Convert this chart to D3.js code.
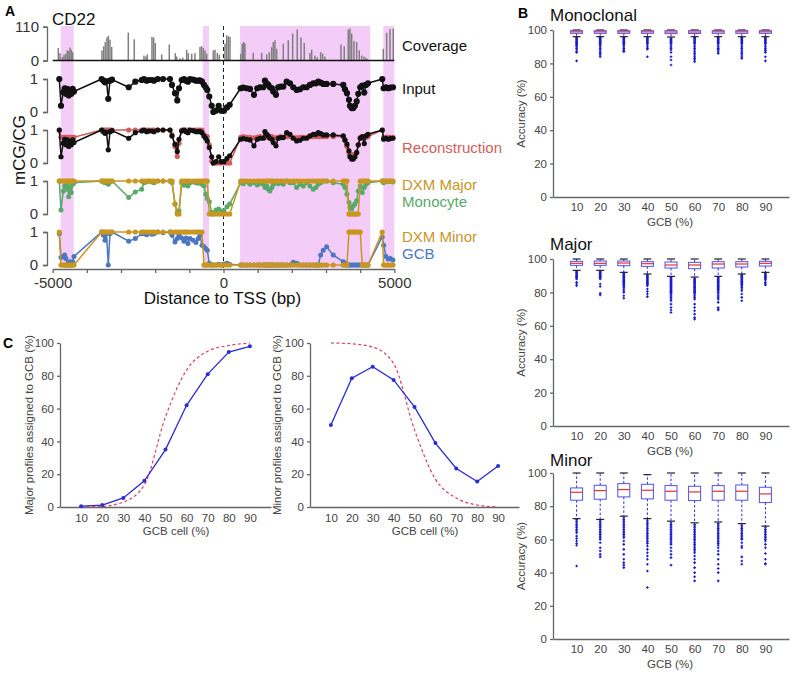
<!DOCTYPE html>
<html>
<head>
<meta charset="utf-8">
<script src="https://cdn.jsdelivr.net/npm/d3@7"></script>
<style>
  body { margin: 0; background: #fff; }
  svg { display: block; }
</style>
</head>
<body>
<script>
// ---------------- data: panel A (CD22 locus) ----------------
const pinkRegions = [[-4765, -4384], [-601, -425], [484, 4296], [4677, 5000]];
const aTicks = [-5000, -4000, -3000, -2000, -1000, 0, 1000, 2000, 3000, 4000, 5000];
const aTickLabels = [-5000, 0, 5000];

const covPos = [-4836,-4786,-4719,-4669,-4619,-4573,-4532,-4494,-4456,-4415,
  -3557,-3507,-3460,-3411,-3373,-3323,-3273,-2787,-2612,-2328,
  -2269,-2231,-2094,-2044,-1997,-1810,-1587,-1411,-1370,-1274,
  -1195,-1078,-1031,-931,-835,-688,-639,-592,-542,-492,
  -299,-249,-182,-124,43,93,140,190,503,550,
  591,629,872,1117,1264,1340,1410,1457,1507,1556,
  1750,1896,2025,2159,2268,2364,2531,2581,2677,2745,
  2844,2903,2970,3439,3535,3652,3702,3752,3819,3898,
  3974,4044,4112,4170,4208,4677,4776,4873,4969];
const covVal = [41,24,11,19,22,33,31,42,35,27,
  33,46,60,75,80,68,44,91,69,16,
  13,20,77,75,57,20,52,24,13,7,
  9,35,24,22,24,44,47,41,33,22,
  33,35,25,19,55,82,79,77,22,55,
  60,55,25,25,20,27,44,60,66,38,
  55,66,88,101,75,57,24,35,16,11,
  27,22,13,52,46,101,104,88,63,60,
  33,16,13,9,5,38,90,102,104];

// CpG positions (bp from TSS)
const cpgPos = [-4807,-4757,-4690,-4649,-4611,-4573,-4532,-4494,-4456,-4415,
  -4377,-3566,-3513,-3469,-3425,-3373,-3323,-3264,-2775,-2582,
  -2395,-2328,-2249,-2181,-2094,-2035,-1927,-1771,-1567,-1508,
  -1420,-1353,-1303,-1224,-1157,-1098,-1040,-981,-885,-806,
  -738,-689,-630,-572,-522,-475,-416,-346,-299,-220,
  -141,-65,14,102,181,503,579,679,775,892,
  989,1068,1164,1214,1264,1311,1360,1419,1457,1536,
  1603,1674,1750,1849,1946,2042,2142,2238,2335,2435,
  2531,2628,2707,2774,2844,2920,3020,3213,3506,3556,
  3614,3673,3702,3752,3799,3848,3898,3945,4003,4062,
  4121,4170,4229,4647,4687,4756,4823,4882,4961];

const inputMeth = [1.0,0.19,0.6,0.72,0.55,0.7,0.5,0.65,0.55,0.7,
  0.62,1.0,0.95,0.9,0.93,0.4,0.95,0.98,0.75,0.92,
  0.97,1.0,0.95,0.97,0.97,0.95,1.0,1.0,1.0,0.82,
  0.57,0.35,0.72,0.97,1.0,0.95,0.92,1.0,0.98,0.95,
  0.95,0.96,0.92,0.82,0.75,0.67,0.47,0.19,0.0,0.04,
  0.19,0.04,0.04,0.14,0.22,0.72,0.74,0.72,0.7,0.52,
  0.72,0.75,0.75,0.95,0.87,0.82,0.75,0.72,0.62,0.52,
  0.75,0.77,0.77,0.92,0.87,0.75,0.67,0.69,0.75,0.75,
  0.82,0.87,0.87,0.92,0.89,0.85,0.85,0.85,0.82,0.69,
  0.57,0.37,0.19,0.12,0.12,0.19,0.32,0.55,0.75,0.8,
  0.59,0.82,0.87,1.0,0.72,0.75,0.72,0.74,0.75];

const reconMeth = [1.0,0.78,0.78,0.78,0.78,0.78,0.78,0.78,0.78,0.78,
  0.78,1,1,1,1,1,1,1,1,1,
  1,1,1,1,1,1,1,1,1,0.85,
  0.5,0.2,0.6,1,1,1,1,1,1,1,
  1,1,1,0.85,0.8,0.8,0.55,0.05,0,0,
  0,0,0,0,0,0.78,0.8,0.78,0.78,0.76,
  0.78,0.8,0.78,0.8,0.78,0.78,0.78,0.8,0.76,0.76,
  0.78,0.8,0.78,0.8,0.8,0.78,0.76,0.78,0.78,0.78,
  0.8,0.8,0.8,0.8,0.8,0.8,0.8,0.8,0.8,0.72,
  0.5,0.3,0.25,0.25,0.25,0.25,0.3,0.55,0.78,0.78,
  0.78,0.78,0.8,1.0,0.78,0.78,0.78,0.78,0.78];

const dxmMajor = [1,1,1,1,1,1,1,1,1,1,
  1,1,1,1,1,1,1,1,1,1,
  1,1,1,1,1,1,1,1,1,1,
  0.3,0,0,1,1,1,1,1,1,1,
  1,1,1,1,1,1,0,0,0,0,
  0,0,0,0,0,1,1,1,1,1,
  1,1,1,1,1,1,1,1,1,1,
  1,1,1,1,1,1,1,1,1,1,
  1,1,1,1,1,1,1,1,1,1,
  1,0,0,0,0,0,0,0,1,1,
  1,1,1,1,1,1,1,1,1];

const monocyte = [1.0,0.12,0.7,0.85,0.75,0.9,0.52,0.8,0.65,0.9,
  0.95,1.0,0.97,0.95,0.97,0.9,0.97,1.0,0.5,0.67,
  0.75,0.95,0.97,1.0,0.97,0.95,1.0,1.0,1.0,0.95,
  0.3,0.05,0.1,0.95,0.87,0.9,0.85,0.95,0.97,0.95,
  0.93,0.97,0.9,0.85,0.6,0.47,0.37,0.05,0.0,0.12,
  0.15,0.08,0.1,0.22,0.3,0.95,0.92,0.97,0.9,0.95,
  0.88,0.93,0.9,0.8,0.85,0.75,0.7,0.8,0.9,0.95,
  0.92,0.95,0.9,1.0,0.95,0.95,0.8,0.9,0.85,0.95,
  0.85,0.75,0.8,0.9,0.95,1.0,1.0,0.95,0.9,0.8,
  0.6,0.35,0.2,0.15,0.25,0.3,0.4,0.7,0.85,0.65,
  0.8,0.9,0.95,1.0,0.95,1.0,0.98,1.0,0.97];

const dxmMinor = [1,0,0,0,0,0,0,0,0,0,
  0,1,1,1,1,1,1,1,1,1,
  1,1,1,1,1,1,1,1,1,1,
  1,1,1,1,1,1,1,1,1,1,
  1,1,1,0,0,0,0,0,0,0,
  0,0,0,0,0,0,0,0,0,0,
  0,0,0,0,0,0,0,0,0,0,
  0,0,0,0,0,0,0,0,0,0,
  0,0,0,0,0,0,0,0,0,0,
  0,1,1,1,1,1,1,1,1,0,
  0,0,0,1,0,0,0,0,0];

const gcb = [0.95,0.23,0.25,0.3,0.2,0.0,0.05,0.1,0.0,0.1,
  0.26,1.0,0.9,0.75,0.95,0.0,0.95,1.0,0.72,0.8,
  0.95,0.95,0.92,0.97,0.93,0.95,1.0,0.98,1.0,0.9,
  0.7,0.8,0.9,0.82,0.72,0.82,0.65,0.8,0.75,0.68,
  0.8,0.9,0.6,0.55,0.5,0.45,0.05,0,0,0,
  0.02,0,0.03,0.05,0.02,0,0,0,0,0,
  0,0,0,0,0,0,0,0,0,0,
  0,0,0,0,0,0.08,0.05,0,0,0,
  0,0,0,0,0.3,0.45,0.55,0.3,0.1,0.05,
  0,0,0,0,0,0,0,0,0,0,
  0,0,0,0.85,0.6,0.26,0.18,0.2,0.15];

// ---------------- data: panel B (accuracy box plots) ----------------
const gcbLevels = [10, 20, 30, 40, 50, 60, 70, 80, 90];
const accTicks = [0, 20, 40, 60, 80, 100];

const monoQ1 = [98, 98, 98, 98, 97.8, 97.9, 98, 98, 98];
const monoMed = [98.9, 98.9, 98.9, 98.9, 98.8, 98.8, 98.9, 98.9, 98.9];
const monoQ3 = [99.6, 99.6, 99.6, 99.6, 99.6, 99.6, 99.6, 99.6, 99.6];
const monoLo = [96, 96, 96, 96, 95.8, 96, 96, 96, 96];
const monoHi = [100, 100, 100, 100, 100, 100, 100, 100, 100];
const monoFliers = [
  [95.5,95,94.5,94,93.5,93,92.5,92,91.5,91,90.5,90,89,88,87,86.5,81.5],
  [95.5,95,94.5,94,93.5,93,92.5,92,91.5,91,90,89,88,87,86,85,84],
  [95.5,95,94.5,94,93.5,93,92.5,92,91.5,91,90,89,88,87.5,87],
  [95.5,95,94.5,94,93.5,93,92.5,92,91,90,89,88.5,84],
  [95,94.5,94,93.5,93,92.5,92,91,90,89,88,86.5,84,82,79],
  [95.5,95,94.5,94,93.5,93,92.5,92,91,90,89,88,87,86,85,84,83,82,81],
  [95.5,95,94.5,94,93.5,93,92.5,92,91,90,89,88.5,88,87,86],
  [95.5,95,94.5,94,93.5,93,92.5,92,91,90,89,88,87,86,85,84,83],
  [95.5,95,94.5,94,93.5,93,92.5,92,91,90,89,88,87.5,86.5,84,81.5]
];

const majQ1 = [96.2, 96.2, 96, 95.6, 94.6, 94.2, 94.6, 95.2, 95.8];
const majMed = [97.4, 97.4, 97.6, 97.2, 96.4, 96.4, 97, 97, 97.4];
const majQ3 = [98.6, 98.8, 98.8, 98.4, 98.2, 98, 98.4, 98.4, 98.6];
const majLo = [93.2, 93.2, 92, 91, 89.6, 89.2, 89.6, 91, 92];
const majHi = [100, 100, 100, 100, 100, 100, 100, 100, 100];
const majFliers = [
  [92.5,92,91.5,91,90.5,90,89.5,89,88.5,88,86,85,84],
  [92.5,92,91.5,91,90.5,90,89.5,89,88.5,88,85,83.5,79.5,78.5],
  [91.5,91,90.5,90,89.5,89,88.5,88,87.5,87,86.5,86,85.5,85,84.5,84,83,82,81,80,78,76.5],
  [90.5,90,89.5,89,88.5,88,87.5,87,86.5,86,85.5,85,84.5,84,82,80.5,79,77.5],
  [89,88.5,88,87.5,87,86.5,86,85.5,85,84.5,84,83.5,83,82.5,82,81.5,81,80.5,80,79.5,79,78,77,76,75,73,71,69.5,68],
  [88.5,88,87.5,87,86.5,86,85.5,85,84.5,84,83.5,83,82.5,82,81.5,81,80.5,80,79.5,79,78,77,76,73,71,69,67,65,64],
  [89,88.5,88,87.5,87,86.5,86,85.5,85,84.5,84,83.5,83,82.5,82,81.5,81,80,79,78,77,76,74,71,70,69.5],
  [90.5,90,89.5,89,88.5,88,87.5,87,86.5,86,85.5,85,84.5,84,83,82,81,79,77,75],
  [91.5,91,90.5,90,89.5,89,88.5,88,87.5,86,85,84.5]
];

const minQ1 = [83.6, 84.2, 85.6, 84.4, 83.6, 83.4, 83.6, 83.6, 82.2];
const minMed = [88.4, 89.4, 90, 89.6, 89, 88.6, 89, 89, 87.4];
const minQ3 = [91, 92.6, 93.6, 93.2, 92.4, 92, 92.4, 92.8, 91.4];
const minLo = [72.5, 72, 74, 72.5, 71, 70, 70.5, 69.5, 68];
const minHi = [100, 100, 100, 99, 100, 100, 100, 100, 100];
const minFliers = [
  [72,71,70,69,68,67,66,65,64,62,60.5,59,57.5,56.5,44],
  [71,70,69,68,67,66,65,64,63,62,61,60,58,55,53,51,49.5],
  [73,72,71,70,69,68,67,66,65,64,63,62,61,59,57,54,51,48,46,44.5,43],
  [71.5,70.5,69.5,68.5,67.5,66.5,65.5,64.5,63.5,62.5,61.5,60.5,59.5,58.5,57.5,56,54,52,50,48,45,41,31],
  [70,69,68,67,66,65,64,63,62,61,60,59,58,57,55,53,51,49,44.5],
  [69,68,67,66,65,64,63,62,61,60,59,58,57,56,55,54,53,52,50,48,46,43,40,37.5,35],
  [69.5,68.5,67.5,66.5,65.5,64.5,63.5,62.5,61.5,60.5,59.5,58.5,57.5,56.5,55,53,51,48,45,42.5,40,35],
  [68.5,67.5,66.5,65.5,64.5,63.5,62.5,61.5,60.5,60,58,56,55,49.5,47,45],
  [67,66,65,64,63,62,61,60,59,57,55,51.5,48,45.5,45]
];

// ---------------- data: panel C ----------------
const cLevels = [10, 20, 30, 40, 50, 60, 70, 80, 90];
const majorObs = [0.5, 1.2, 5.5, 16, 35, 62, 81, 94.5, 98];
const majorExp = [0, 0.4, 3, 13.5, 55, 83.5, 95, 98.5, 100];
const minorObs = [50, 78.5, 85.5, 77.5, 61, 39, 23.5, 15.5, 25];
const minorExp = [100, 99.5, 97.5, 87.5, 47, 17, 5.5, 1.2, 0];

// ---------------- drawing ----------------
const FONT = '"Liberation Sans", Arial, Helvetica, sans-serif';
const RED = '#d05e5c', GOLD = '#c9961f', GREEN = '#58a96a', BLUE = '#4a77c0';

const svg = d3.select('body').append('svg')
  .attr('width', 794).attr('height', 674)
  .style('font-family', FONT);

function styleAxis(g, size, col) {
  g.select('.domain').attr('stroke', '#666').attr('stroke-width', 1.3);
  g.selectAll('.tick line').attr('stroke', '#666').attr('stroke-width', 1.3);
  g.selectAll('.tick text').attr('fill', col || '#333').style('font-size', size + 'px').style('font-family', FONT);
}

// ===== Panel A =====
const xA = d3.scaleLinear().domain([-5000, 5000]).range([52.7, 394.3]);
const yCov = d3.scaleLinear().domain([0, 110]).range([60.5, 26.7]);
const axisAY = 269;

svg.append('g').selectAll('rect').data(pinkRegions).join('rect')
  .attr('x', d => xA(d[0]))
  .attr('width', d => xA(d[1]) - xA(d[0]))
  .attr('y', 26).attr('height', axisAY - 27)
  .attr('fill', '#f4ccf8');

svg.append('line')
  .attr('x1', xA(0)).attr('x2', xA(0)).attr('y1', 26).attr('y2', axisAY)
  .attr('stroke', '#222').attr('stroke-width', 1).attr('stroke-dasharray', '4,3');

// coverage bars
svg.append('g').selectAll('rect').data(covPos.map((p, i) => ({ p, v: covVal[i] }))).join('rect')
  .attr('x', d => xA(d.p) - 0.75).attr('width', 1.5)
  .attr('y', d => yCov(d.v)).attr('height', d => yCov(0) - yCov(d.v))
  .attr('fill', '#808080');
svg.append('line')
  .attr('x1', xA(-5000)).attr('x2', xA(5000)).attr('y1', yCov(0)).attr('y2', yCov(0))
  .attr('stroke', '#111').attr('stroke-width', 1.5);

const covAxis = svg.append('g').attr('transform', 'translate(47,0)')
  .call(d3.axisLeft(yCov).tickValues([0, 110]).tickSize(4).tickPadding(4));
styleAxis(covAxis, 15);

// methylation tracks
const tracks = [
  { range: [112, 79], series: [{ v: inputMeth, c: '#111', r: 3.1 }] },
  { range: [163, 130], series: [{ v: reconMeth, c: RED, r: 2.6 }, { v: inputMeth, c: '#111', r: 2.6 }] },
  { range: [214, 181], series: [{ v: monocyte, c: GREEN, r: 2.5 }, { v: dxmMajor, c: GOLD, r: 2.6 }] },
  { range: [265, 232], series: [{ v: gcb, c: BLUE, r: 2.5 }, { v: dxmMinor, c: GOLD, r: 2.6 }] }
];

tracks.forEach(t => {
  const y = d3.scaleLinear().domain([0, 1]).range(t.range);
  const ax = svg.append('g').attr('transform', 'translate(47,0)')
    .call(d3.axisLeft(y).tickValues([0, 1]).tickSize(4).tickPadding(5).tickFormat(d3.format('d')));
  styleAxis(ax, 15);
  t.series.forEach(s => {
    const pts = cpgPos.map((p, i) => ({ p, v: s.v[i] }));
    svg.append('path').datum(pts)
      .attr('d', d3.line().x(d => xA(d.p)).y(d => y(d.v)))
      .attr('fill', 'none').attr('stroke', s.c).attr('stroke-width', 1.5);
    svg.append('g').selectAll('circle').data(pts).join('circle')
      .attr('cx', d => xA(d.p)).attr('cy', d => y(d.v)).attr('r', s.r)
      .attr('fill', s.c);
  });
});

// x axis of panel A
const axA = svg.append('g').attr('transform', `translate(0,${axisAY})`)
  .call(d3.axisBottom(xA).tickValues(aTicks).tickSize(4).tickSizeOuter(0).tickPadding(4)
    .tickFormat(d => aTickLabels.includes(d) ? String(d) : ''));
styleAxis(axA, 15);

svg.append('text').attr('x', 222.5).attr('y', 304).attr('text-anchor', 'middle')
  .style('font-size', '17px').attr('fill', '#111').text('Distance to TSS (bp)');
svg.append('text').attr('transform', 'translate(25,150) rotate(-90)').attr('text-anchor', 'middle')
  .style('font-size', '17px').attr('fill', '#111').text('mCG/CG');
svg.append('text').attr('x', 52).attr('y', 25).style('font-size', '17px').attr('fill', '#111').text('CD22');

const trackLabels = [
  { t: 'Coverage', y: 51, c: '#111' },
  { t: 'Input', y: 94, c: '#111' },
  { t: 'Reconstruction', y: 153, c: RED },
  { t: 'DXM Major', y: 190, c: GOLD },
  { t: 'Monocyte', y: 207, c: GREEN },
  { t: 'DXM Minor', y: 242, c: GOLD },
  { t: 'GCB', y: 259, c: BLUE }
];
svg.append('g').selectAll('text').data(trackLabels).join('text')
  .attr('x', 402).attr('y', d => d.y).attr('fill', d => d.c)
  .style('font-size', '15px').text(d => d.t);

// panel letters
svg.append('text').attr('x', 5).attr('y', 16).style('font-size', '14px').style('font-weight', 'bold').text('A');
svg.append('text').attr('x', 518).attr('y', 18).style('font-size', '14px').style('font-weight', 'bold').text('B');
svg.append('text').attr('x', 3).attr('y', 348).style('font-size', '14px').style('font-weight', 'bold').text('C');

// ===== Panel B =====
function boxPanel(title, titleY, yBottom, yTop, q1, med, q3, lo, hi, fliers) {
  const x = d3.scaleLinear().domain([0, 100]).range([553, 789]);
  const y = d3.scaleLinear().domain([0, 100]).range([yBottom, yTop]);
  const g = svg.append('g');

  g.append('text').attr('x', 550).attr('y', titleY).style('font-size', '17px').attr('fill', '#111').text(title);

  const ya = g.append('g').attr('transform', 'translate(553,0)')
    .call(d3.axisLeft(y).tickValues(accTicks).tickSize(3).tickSizeOuter(0).tickPadding(3));
  styleAxis(ya, 11.5, '#444');
  const xa = g.append('g').attr('transform', `translate(0,${yBottom})`)
    .call(d3.axisBottom(x).tickValues(gcbLevels).tickSize(0).tickSizeOuter(0).tickPadding(6));
  styleAxis(xa, 11.5, '#444');

  g.append('text').attr('transform', 'translate(525,' + ((yBottom + yTop) / 2) + ') rotate(-90)')
    .attr('text-anchor', 'middle').style('font-size', '11.5px').attr('fill', '#444').text('Accuracy (%)');
  g.append('text').attr('x', 670).attr('y', yBottom + 29).attr('text-anchor', 'middle')
    .style('font-size', '11.5px').attr('fill', '#444').text('GCB (%)');

  const rows = gcbLevels.map((l, i) => ({ l, q1: q1[i], med: med[i], q3: q3[i], lo: lo[i], hi: hi[i], f: fliers[i] }));
  const bw = 12, cw = 4;
  const b = g.selectAll('g.box').data(rows).join('g').attr('class', 'box');
  // whiskers
  b.append('line').attr('x1', d => x(d.l)).attr('x2', d => x(d.l))
    .attr('y1', d => y(d.q3)).attr('y2', d => y(d.hi))
    .attr('stroke', '#2a2ae0').attr('stroke-width', 1).attr('stroke-dasharray', '2.5,2');
  b.append('line').attr('x1', d => x(d.l)).attr('x2', d => x(d.l))
    .attr('y1', d => y(d.q1)).attr('y2', d => y(d.lo))
    .attr('stroke', '#2a2ae0').attr('stroke-width', 1).attr('stroke-dasharray', '2.5,2');
  // fliers
  b.selectAll('path.fl').data(d => d.f.map(v => ({ l: d.l, v }))).join('path').attr('class', 'fl')
    .attr('d', d => `M${x(d.l) - 1.3},${y(d.v)}H${x(d.l) + 1.3}M${x(d.l)},${y(d.v) - 1.3}V${y(d.v) + 1.3}`)
    .attr('stroke', '#1a1acf').attr('stroke-width', 1.1);
  // caps
  b.append('line').attr('x1', d => x(d.l) - cw).attr('x2', d => x(d.l) + cw)
    .attr('y1', d => y(d.hi)).attr('y2', d => y(d.hi)).attr('stroke', '#222').attr('stroke-width', 1.2);
  b.append('line').attr('x1', d => x(d.l) - cw).attr('x2', d => x(d.l) + cw)
    .attr('y1', d => y(d.lo)).attr('y2', d => y(d.lo)).attr('stroke', '#222').attr('stroke-width', 1.2);
  // box
  b.append('rect').attr('x', d => x(d.l) - bw / 2).attr('width', bw)
    .attr('y', d => y(d.q3)).attr('height', d => y(d.q1) - y(d.q3))
    .attr('fill', '#fff').attr('stroke', '#5050ee').attr('stroke-width', 1);
  b.append('line').attr('x1', d => x(d.l) - bw / 2).attr('x2', d => x(d.l) + bw / 2)
    .attr('y1', d => y(d.med)).attr('y2', d => y(d.med)).attr('stroke', '#e8312c').attr('stroke-width', 1.2);
}

boxPanel('Monoclonal', 21, 197, 30, monoQ1, monoMed, monoQ3, monoLo, monoHi, monoFliers);
boxPanel('Major', 250, 426, 259, majQ1, majMed, majQ3, majLo, majHi, majFliers);
boxPanel('Minor', 466, 639, 473, minQ1, minMed, minQ3, minLo, minHi, minFliers);

// ===== Panel C =====
function linePanel(x0, x1, obs, exp, label, labelX, xLabelX) {
  const x = d3.scaleLinear().domain([0, 100]).range([x0, x1]);
  const y = d3.scaleLinear().domain([0, 100]).range([507, 343]);
  const g = svg.append('g');

  const ya = g.append('g').attr('transform', `translate(${x0},0)`)
    .call(d3.axisLeft(y).ticks(5).tickSize(3).tickSizeOuter(0).tickPadding(3));
  styleAxis(ya, 11.5, '#444');
  const xa = g.append('g').attr('transform', 'translate(0,507)')
    .call(d3.axisBottom(x).tickValues(cLevels).tickSize(0).tickSizeOuter(0).tickPadding(7));
  styleAxis(xa, 11.5, '#444');

  g.append('text').attr('transform', `translate(${labelX},425) rotate(-90)`).attr('text-anchor', 'middle')
    .style('font-size', '11.5px').attr('fill', '#444').text(label);
  g.append('text').attr('x', xLabelX).attr('y', 535).attr('text-anchor', 'middle')
    .style('font-size', '11.5px').attr('fill', '#444').text('GCB cell (%)');

  const expPts = cLevels.map((l, i) => ({ l, v: exp[i] }));
  const obsPts = cLevels.map((l, i) => ({ l, v: obs[i] }));
  g.append('path').datum(expPts)
    .attr('d', d3.line().x(d => x(d.l)).y(d => y(d.v)).curve(d3.curveMonotoneX))
    .attr('fill', 'none').attr('stroke', '#d8405a').attr('stroke-width', 1.2).attr('stroke-dasharray', '3,2.5');
  g.append('path').datum(obsPts)
    .attr('d', d3.line().x(d => x(d.l)).y(d => y(d.v)))
    .attr('fill', 'none').attr('stroke', '#2b2bd6').attr('stroke-width', 1.3);
  g.selectAll('circle').data(obsPts).join('circle')
    .attr('cx', d => x(d.l)).attr('cy', d => y(d.v)).attr('r', 2)
    .attr('fill', '#2b2bd6');
}

linePanel(60, 271, majorObs, majorExp, 'Major profiles assigned to GCB (%)', 33, 176);
linePanel(310, 519, minorObs, minorExp, 'Minor profiles assigned to GCB (%)', 281, 425);
</script>
</body>
</html>
